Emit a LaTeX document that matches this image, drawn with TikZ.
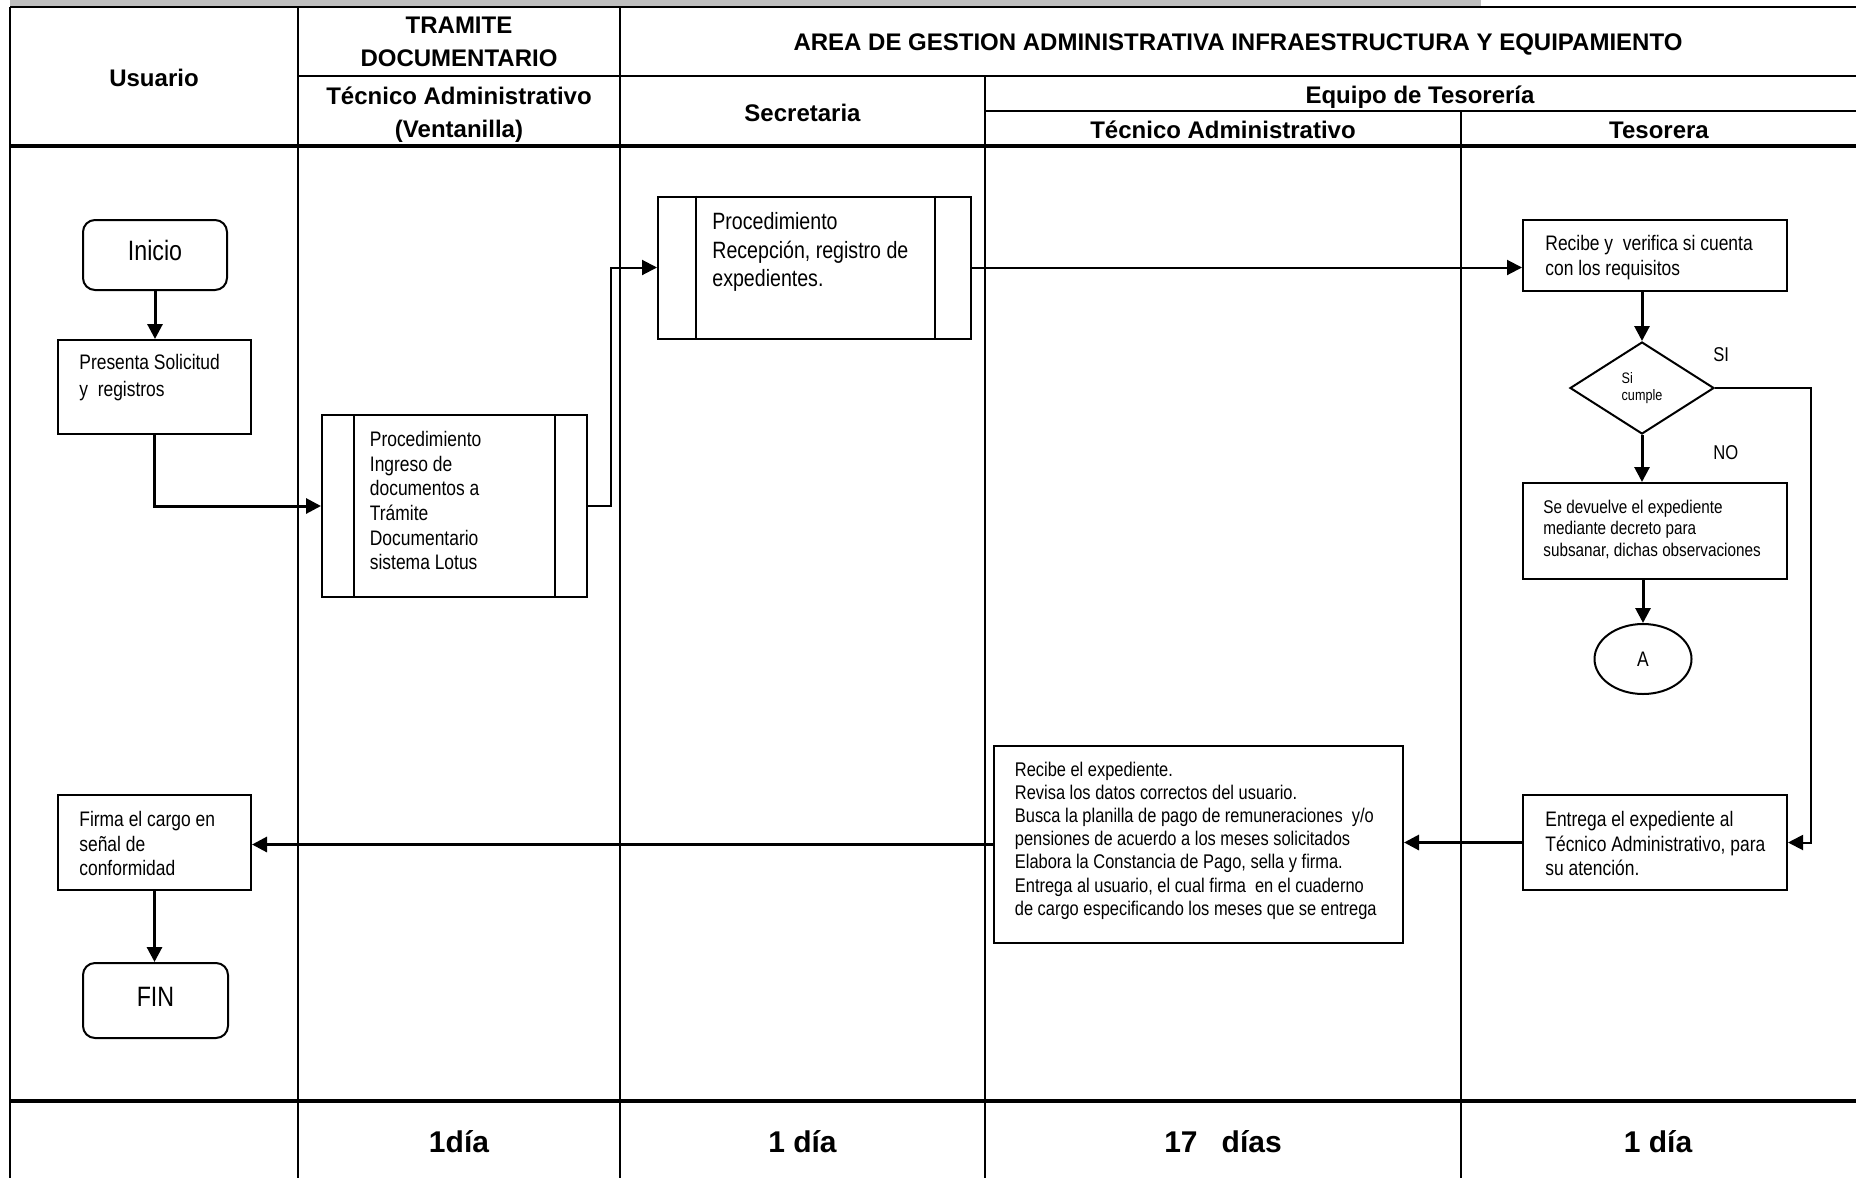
\documentclass[tikz,border=0pt]{standalone}
\usepackage{fontspec}
\setmainfont{Liberation Sans}
\newfontfamily\nar[FakeStretch=0.83]{Liberation Sans}
\usetikzlibrary{arrows.meta,shapes.geometric}
\definecolor{bargray}{RGB}{191,191,191}

\begin{document}
\begin{tikzpicture}[x=0.5pt,y=-0.5pt,
  grid/.style={line width=1.2pt},
  rowline/.style={line width=2.3pt},
  head/.style={font=\bfseries\fontsize{12}{14}\selectfont, inner sep=0, anchor=base},
  foot/.style={font=\bfseries\fontsize{15}{18}\selectfont, inner sep=0, anchor=base},
  box/.style={draw, line width=1pt, inner sep=0},
  txt/.style={inner sep=0, anchor=north west, align=left},
  lbl/.style={inner sep=0, anchor=base west, font=\nar\fontsize{10}{12}\selectfont},
  subline/.style={line width=1pt},
  flow/.style={line width=1.5pt, -{Triangle[length=7.5pt,width=7.5pt]}},
  thinflow/.style={line width=1pt, -{Triangle[length=7.5pt,width=7.5pt]}},
]
\useasboundingbox (0,0) rectangle (1856,1178);

% ---- swimlane table ----
\fill[bargray] (10,0) rectangle (1481,6);
\draw[grid] (10,7) -- (1856,7);
\draw[grid] (10,7) -- (10,1178);
\draw[grid] (298,7) -- (298,1178);
\draw[grid] (620,7) -- (620,1178);
\draw[grid] (985,76) -- (985,1178);
\draw[grid] (1461,111) -- (1461,1178);
\draw[grid] (298,76) -- (1856,76);
\draw[grid] (985,111) -- (1856,111);
\draw[rowline] (10,146) -- (1856,146);
\draw[rowline] (10,1101) -- (1856,1101);

% ---- header ----
\node[head] (hUsuario) at (154,86) {Usuario};
\node[head] (hTramA) at (459,33) {TRAMITE};
\node[head] (hTramB) at (459,66) {DOCUMENTARIO};
\node[head] (hArea) at (1238,50) {AREA DE GESTION ADMINISTRATIVA INFRAESTRUCTURA Y EQUIPAMIENTO};
\node[head] (hTecA) at (459,104) {Técnico Administrativo};
\node[head] (hTecAb) at (459,137) {(Ventanilla)};
\node[head] (hSec) at (802.5,121) {Secretaria};
\node[head] (hEq) at (1420,103) {Equipo de Tesorería};
\node[head] (hTecB) at (1223,138) {Técnico Administrativo};
\node[head] (hTes) at (1659,138) {Tesorera};

% ---- Usuario lane ----
\node[box, rounded corners=6pt, minimum width=72pt, minimum height=35pt,
      font=\nar\fontsize{14}{16}\selectfont] (inicio) at (155,255) {\raisebox{4.5pt}{Inicio}};
\node[box, minimum width=96.5pt, minimum height=47pt] (presenta) at (154.5,387) {};
\node[txt, font=\nar\fontsize{10.5}{13.2}\selectfont] (presentaT) at (79,351)
  {\strut Presenta Solicitud\\y~~registros};
\node[box, minimum width=96.5pt, minimum height=47.5pt] (firma) at (154.5,842.5) {};
\node[txt, font=\nar\fontsize{10.5}{12.25}\selectfont] (firmaT) at (79,809)
  {\strut Firma el cargo en\\señal de\\conformidad};
\node[box, rounded corners=6pt, minimum width=72.5pt, minimum height=37.5pt,
      font=\nar\fontsize{14}{16}\selectfont] (fin) at (155.5,1000.5) {\raisebox{3.5pt}{FIN}};

% ---- Tramite documentario lane ----
\node[box, minimum width=132.5pt, minimum height=91pt] (ingreso) at (454.5,506) {};
\draw[subline] ([xshift=16.5pt]ingreso.north west) -- ([xshift=16.5pt]ingreso.south west);
\draw[subline] ([xshift=-16.5pt]ingreso.north east) -- ([xshift=-16.5pt]ingreso.south east);
\node[txt, font=\nar\fontsize{10.5}{12.3}\selectfont] (ingresoT) at (369.5,429)
  {\strut Procedimiento\\Ingreso de\\documentos a\\Trámite\\Documentario\\sistema Lotus};

% ---- Secretaria lane ----
\node[box, minimum width=156.5pt, minimum height=71pt] (recep) at (814.5,267.5) {};
\draw[subline] ([xshift=19.5pt]recep.north west) -- ([xshift=19.5pt]recep.south west);
\draw[subline] ([xshift=-18.5pt]recep.north east) -- ([xshift=-18.5pt]recep.south east);
\node[txt, font=\nar\fontsize{11.8}{14.2}\selectfont] (recepT) at (712,209.5)
  {\strut Procedimiento\\Recepción, registro de\\expedientes.};

% ---- Tecnico administrativo lane ----
\node[box, minimum width=204.5pt, minimum height=98.5pt] (exped) at (1198.5,844.5) {};
\node[txt, font=\nar\fontsize{9.9}{11.6}\selectfont] (expedT) at (1014.5,759.5)
  {\strut Recibe el expediente.\\
   Revisa los datos correctos del usuario.\\
   Busca la planilla de pago de remuneraciones~~y/o\\
   pensiones de acuerdo a los meses solicitados\\
   Elabora la Constancia de Pago, sella y firma.\\
   Entrega al usuario, el cual firma~~en el cuaderno\\
   de cargo especificando los meses que se entrega};

% ---- Tesorera lane ----
\node[box, minimum width=132pt, minimum height=35.5pt] (recibe) at (1655,255.5) {};
\node[txt, font=\nar\fontsize{10.5}{12.25}\selectfont] (recibeT) at (1545,233)
  {\strut Recibe y~~verifica si cuenta\\con los requisitos};
\node[draw, diamond, line width=1pt, minimum width=72pt, minimum height=46pt,
      inner sep=0, align=left, font=\nar\fontsize{7.6}{8.4}\selectfont] (dia) at (1642,388) {Si\\cumple};
\node[lbl] (siL) at (1713,361) {SI};
\node[lbl] (noL) at (1713,459) {NO};
\node[box, minimum width=132pt, minimum height=48pt] (devuelve) at (1655,531) {};
\node[txt, font=\nar\fontsize{9.2}{10.75}\selectfont] (devuelveT) at (1543,498)
  {\strut Se devuelve el expediente\\mediante decreto para\\subsanar, dichas observaciones};
\node[draw, ellipse, line width=1pt, minimum width=48.5pt, minimum height=35pt, inner sep=0,
      font=\nar\fontsize{10.5}{12}\selectfont] (conA) at (1643,659) {A};
\node[box, minimum width=132pt, minimum height=47.5pt] (entrega) at (1655,842.5) {};
\node[txt, font=\nar\fontsize{10.5}{12.25}\selectfont] (entregaT) at (1545,809)
  {\strut Entrega el expediente al\\Técnico Administrativo, para\\su atención.};

% ---- connectors ----
\coordinate (jA) at (611,0);
\coordinate (jB) at (1811,0);
\draw[flow] (inicio.south) -- (inicio.south |- presenta.north);
\draw[flow] (presenta.south) |- (ingreso.west);
\draw[thinflow] (ingreso.east) -- (ingreso.east -| jA) |- (recep.west);
\draw[thinflow] (recep.east) -- (recep.east -| recibe.west);
\draw[flow] (recibe.south -| dia.north) -- (dia.north);
\draw[flow] (dia.south) -- (dia.south |- devuelve.north);
\draw[flow] (devuelve.south -| conA.north) -- (conA.north);
\draw[thinflow] (dia.east) -| (jB |- entrega.east) -- (entrega.east);
\draw[flow] (entrega.west) -- (entrega.west -| exped.east);
\draw[flow] (exped.west) -- (exped.west -| firma.east);
\draw[flow] (firma.south) -- (firma.south |- fin.north);

% ---- durations ----
\node[foot] (d1) at (459,1152) {1día};
\node[foot] (d2) at (802.5,1152) {1 día};
\node[foot] (d3) at (1223,1152) {17\hspace{12pt}días};
\node[foot] (d4) at (1658,1152) {1 día};
\end{tikzpicture}
\end{document}
